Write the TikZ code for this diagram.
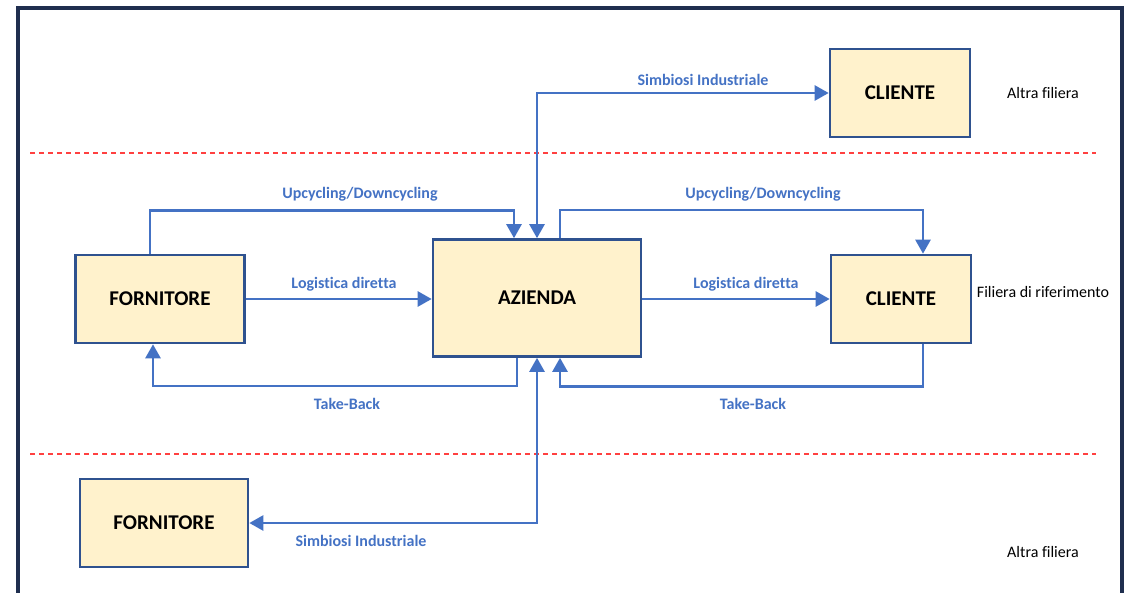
\documentclass[tikz,border=0pt]{standalone}
\usepackage{fontspec}
\setmainfont[Ligatures=NoCommon]{Carlito}
\usepackage{xcolor}
\usetikzlibrary{arrows.meta}
\definecolor{boxfill}{HTML}{FFF2CC}
\definecolor{boxline}{HTML}{2F528F}
\definecolor{flowblue}{HTML}{4472C4}
\definecolor{framenavy}{HTML}{1F2E4F}
\definecolor{sepred}{HTML}{FF4040}
\tikzset{
  actor/.style={draw=boxline,line width=2.6pt,fill=boxfill,inner sep=0pt,
    font=\fontsize{21}{24}\selectfont\bfseries},
  flow/.style={draw=flowblue,line width=2.5pt,
    -{Triangle[length=14pt,width=15pt]}},
  flowboth/.style={flow,{Triangle[length=14pt,width=15pt]}-{Triangle[length=14pt,width=15pt]}},
  flowlabel/.style={text=flowblue,font=\fontsize{16}{18}\selectfont\bfseries},
  tier/.style={font=\fontsize{16}{18}\selectfont},
  separator/.style={draw=sepred,line width=1.4pt,dash pattern=on 5pt off 4pt}
}
\begin{document}
\begin{tikzpicture}[x=1pt,y=-1pt]
\useasboundingbox (0,0) rectangle (1127,592);
% frame
\scope
\clip (0,0) rectangle (1127,592);
\draw[framenavy,line width=3.5pt] (18,8) rectangle (1122,605);
\endscope
% separators
\draw[separator] (30,153) -- (1096,153);
\draw[separator] (30,454) -- (1096,454);
% actors
\node[actor,minimum width=140pt,minimum height=88pt] (clienteAlt) at (900,93) {CLIENTE};
\node[actor,minimum width=169pt,minimum height=88pt] (forn) at (160,299) {FORNITORE};
\node[actor,minimum width=208pt,minimum height=117pt] (azienda) at (537,298) {AZIENDA};
\node[actor,minimum width=140pt,minimum height=88pt] (cliente) at (901,299) {CLIENTE};
\node[actor,minimum width=168pt,minimum height=88pt] (fornAlt) at (164,523) {FORNITORE};
% flows
\draw[flowboth] (azienda.north) |- (clienteAlt.west);
\draw[flow] ([xshift=-10pt]forn.north) -- ++(0,-43) -| ([xshift=-23pt]azienda.north);
\draw[flow] ([xshift=23pt]azienda.north) -- ++(0,-28) -| ([xshift=22pt]cliente.north);
\draw[flow] (forn.east) -- (forn.east -| azienda.west);
\draw[flow] (azienda.east |- cliente.west) -- (cliente.west);
\draw[flow] ([xshift=-20pt]azienda.south) -- ++(0,28) -| ([xshift=-7pt]forn.south);
\draw[flow] ([xshift=22pt]cliente.south) -- ++(0,42) -| ([xshift=23pt]azienda.south);
\draw[flowboth] (azienda.south) |- (fornAlt.east);
% flow labels
\node[flowlabel] (simbTop) at (703,80) {Simbiosi Industriale};
\node[flowlabel] (upLeft) at (360,194) {Upcycling/Downcycling};
\node[flowlabel] (upRight) at (763,194) {Upcycling/Downcycling};
\node[flowlabel] (logLeft) at (344,284) {Logistica diretta};
\node[flowlabel] (logRight) at (746,284) {Logistica diretta};
\node[flowlabel] (backLeft) at (347,404) {Take-Back};
\node[flowlabel] (backRight) at (753,404) {Take-Back};
\node[flowlabel] (simbBottom) at (361,541) {Simbiosi Industriale};
% tiers
\node[tier] (tierTop) at (1043,93) {Altra filiera};
\node[tier] (tierMid) at (1043,292) {Filiera di riferimento};
\node[tier] (tierBottom) at (1043,552) {Altra filiera};
\end{tikzpicture}
\end{document}
